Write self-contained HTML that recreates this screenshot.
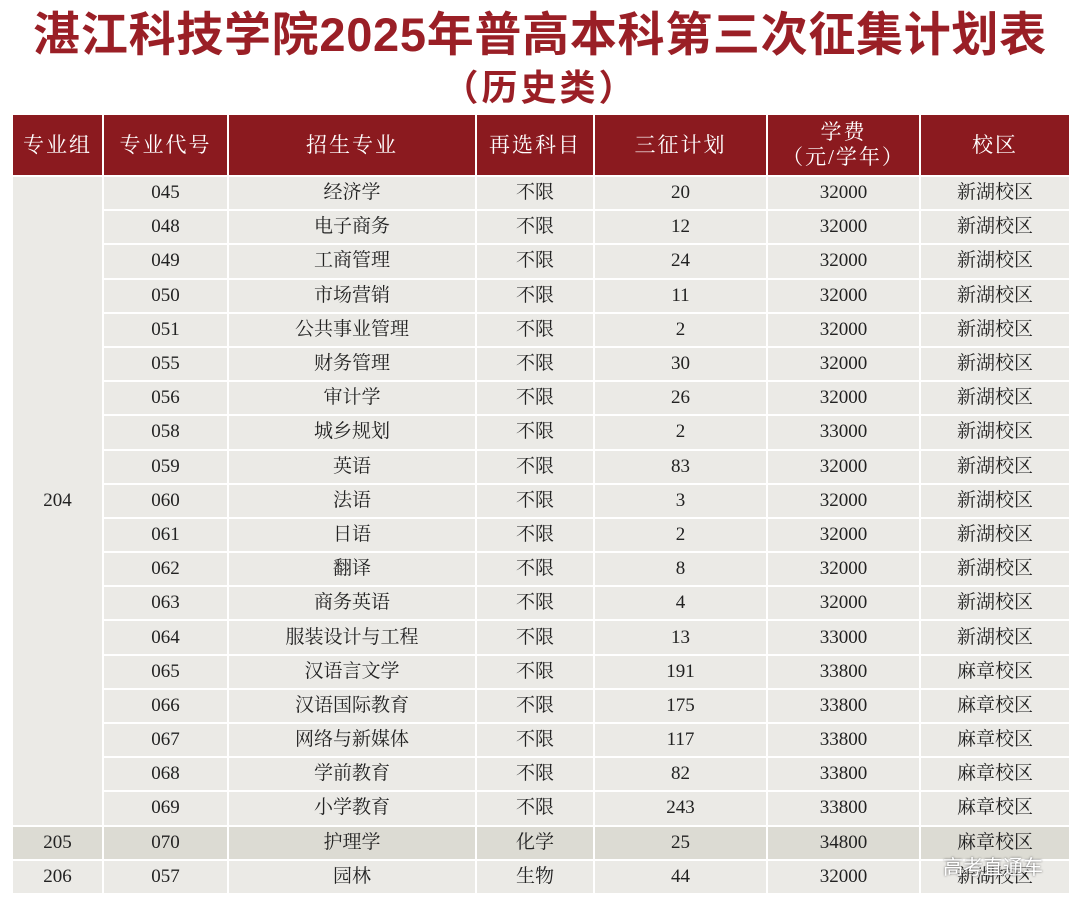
<!DOCTYPE html>
<html><head><meta charset="utf-8"><style>
body{margin:0;width:1080px;height:905px;background:#fff;position:relative;overflow:hidden;font-family:"Liberation Serif","Noto Serif CJK SC",serif;}
#title{position:absolute;left:0;width:1080px;top:5px;text-align:center;font:bold 47px/60px "Liberation Sans","Noto Sans CJK SC",sans-serif;color:#9a1f26;letter-spacing:0.7px;white-space:nowrap}
#sub{position:absolute;left:0;width:1080px;top:63px;text-align:center;font:bold 36px/50px "Liberation Sans","Noto Sans CJK SC",sans-serif;color:#9a1f26;letter-spacing:3px}
table{position:absolute;left:11px;top:113px;border-collapse:collapse;table-layout:fixed;width:1058px}
td,th{border:2px solid #fff;text-align:center;padding:0;font-size:19px;color:#222;background:#ebeae6}
th{background:#8b1a1f;color:#fff;font-weight:normal;height:60px;font-size:21px;letter-spacing:2px;line-height:25px}
td{height:32.2px;line-height:28px}
tr.alt td{background:#dcdbd3}
#wm{position:absolute;left:943px;top:851px;font:20px "Liberation Sans","Noto Sans CJK SC",sans-serif;color:#fff;text-shadow:0 0 2px #555}
</style></head><body>
<div id="title">湛江科技学院2025年普高本科第三次征集计划表</div>
<div id="sub">（历史类）</div>
<table id="tbl">
<colgroup><col style="width:91px"><col style="width:125px"><col style="width:248px"><col style="width:118px"><col style="width:173px"><col style="width:153px"><col style="width:150px"></colgroup>
<tr><th>专业组</th><th>专业代号</th><th>招生专业</th><th>再选科目</th><th>三征计划</th><th>学费<br>（元/学年）</th><th>校区</th></tr>
</table>
<div id="wm">高考直通车</div>
<script>
const codes=["045","048","049","050","051","055","056","058","059","060","061","062","063","064","065","066","067","068","069","070","057"];
const majors=["经济学","电子商务","工商管理","市场营销","公共事业管理","财务管理","审计学","城乡规划","英语","法语","日语","翻译","商务英语","服装设计与工程","汉语言文学","汉语国际教育","网络与新媒体","学前教育","小学教育","护理学","园林"];
const subjects=["不限","不限","不限","不限","不限","不限","不限","不限","不限","不限","不限","不限","不限","不限","不限","不限","不限","不限","不限","化学","生物"];
const plans=[20,12,24,11,2,30,26,2,83,3,2,8,4,13,191,175,117,82,243,25,44];
const fees=[32000,32000,32000,32000,32000,32000,32000,33000,32000,32000,32000,32000,32000,33000,33800,33800,33800,33800,33800,34800,32000];
const campus=["新湖校区","新湖校区","新湖校区","新湖校区","新湖校区","新湖校区","新湖校区","新湖校区","新湖校区","新湖校区","新湖校区","新湖校区","新湖校区","新湖校区","麻章校区","麻章校区","麻章校区","麻章校区","麻章校区","麻章校区","新湖校区"];
const t=document.getElementById('tbl');
for(let i=0;i<codes.length;i++){
  const tr=document.createElement('tr');
  
  
  if(i===19)tr.className='alt';
  let g=null;
  if(i===0){g=document.createElement('td');g.rowSpan=19;g.textContent='204';}
  if(i===19){g=document.createElement('td');g.textContent='205';}
  if(i===20){g=document.createElement('td');g.textContent='206';}
  if(g){
  tr.appendChild(g);}
  [codes[i],majors[i],subjects[i],plans[i],fees[i],campus[i]].forEach(v=>{
    const td=document.createElement('td');td.textContent=v;
    
    
    tr.appendChild(td);
  });
  t.appendChild(tr);
}
</script>
</body></html>
